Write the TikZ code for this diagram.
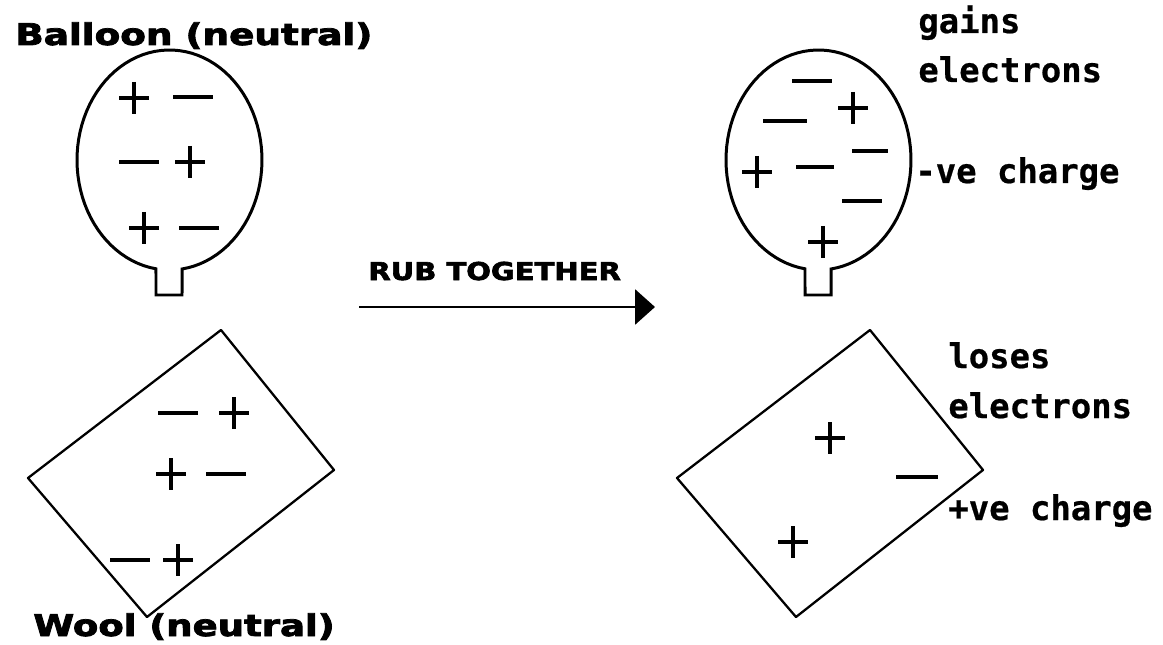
\documentclass[tikz,border=0pt]{standalone}
\usepackage{fontspec}
\usetikzlibrary{arrows.meta,positioning}
\newfontfamily\heavyfont{DejaVu Sans Bold}[FakeBold=2.5]
\newfontfamily\pixfont{DejaVu Sans Mono Bold}[FakeBold=0.6]
\tikzset{
    charge/.style={line width=1.9pt},
    outline/.style={line width=1.7pt},
    rag/.style={line width=1.3pt,line join=round},
    heading/.style={font=\heavyfont\fontsize{17}{20}\selectfont,inner sep=0pt,anchor=base west},
    note/.style={font=\pixfont\fontsize{19.3}{22}\selectfont,inner sep=0pt,anchor=base west},
    pics/plus/.style={code={\draw[charge] (-15,0) -- (15,0) (0,-16) -- (0,16);}},
    pics/minus/.style={code={\draw[charge] (-#1,0) -- (#1,0);}},
    pics/balloon/.style={code={
        \draw[outline] plot[domain=98.4:442.2,samples=90] ({92.5*cos(\x)},{110*sin(\x)})
            -- (12.5,135) -- (-13.5,135) -- cycle;
    }},
    pics/wool/.style={code={
        \draw[rag] (221,330) -- (334,470) -- (147,617) -- (28,478) -- cycle;
    }}
}

\begin{document}
\begin{tikzpicture}[x=0.02cm,y=-0.02cm]
    \useasboundingbox (0,0) rectangle (1163,645);

    % neutral balloon and wool
    \pic at (169.5,160) {balloon};
    \pic at (0,0) {wool};
    \node[heading] (balloontitle) at (15,45) {\scalebox{1.25}[1]{Balloon (neutral)}};
    \node[heading] (wooltitle) at (33,636) {\scalebox{1.24}[1]{Wool (neutral)}};
    \foreach \x/\y in {134/98,190/162,144/228,234/413,171/474,178/560}
        \pic at (\x,\y) {plus};
    \foreach \x/\y in {193/97,139/162,199/228,178/413,226/474,130/560}
        \pic at (\x,\y) {minus=20};

    % rubbing arrow
    \coordinate (rubstart) at (359,307);
    \coordinate (rubend) at (655,307);
    \draw[line width=1.7pt,-{Triangle[length=11.3pt,width=19.8pt]}] (rubstart) -- (rubend);
    \node[heading,font=\heavyfont\fontsize{14}{16}\selectfont] (rublabel) at (368,280)
        {\scalebox{1.18}[1]{RUB TOGETHER}};

    % charged balloon and wool
    \pic at (818.5,160) {balloon};
    \pic at (649,0) {wool};
    \foreach \x/\y in {853/108,757/172,823/242,830/438,793/542}
        \pic at (\x,\y) {plus};
    \foreach \x/\y/\w in {812/81/20,785/121/22,870/151/18,815/167/19,862/201/20,917/477/21}
        \pic at (\x,\y) {minus=\w};

    \node[note] (gains) at (918,33) {gains};
    \node[note] (gainse) at (918,82) {electrons};
    \node[note] (negative) at (915,183) {-ve charge};
    \node[note] (loses) at (948,368) {loses};
    \node[note] (losese) at (948,418) {electrons};
    \node[note] (positive) at (948,520) {+ve charge};
\end{tikzpicture}
\end{document}
